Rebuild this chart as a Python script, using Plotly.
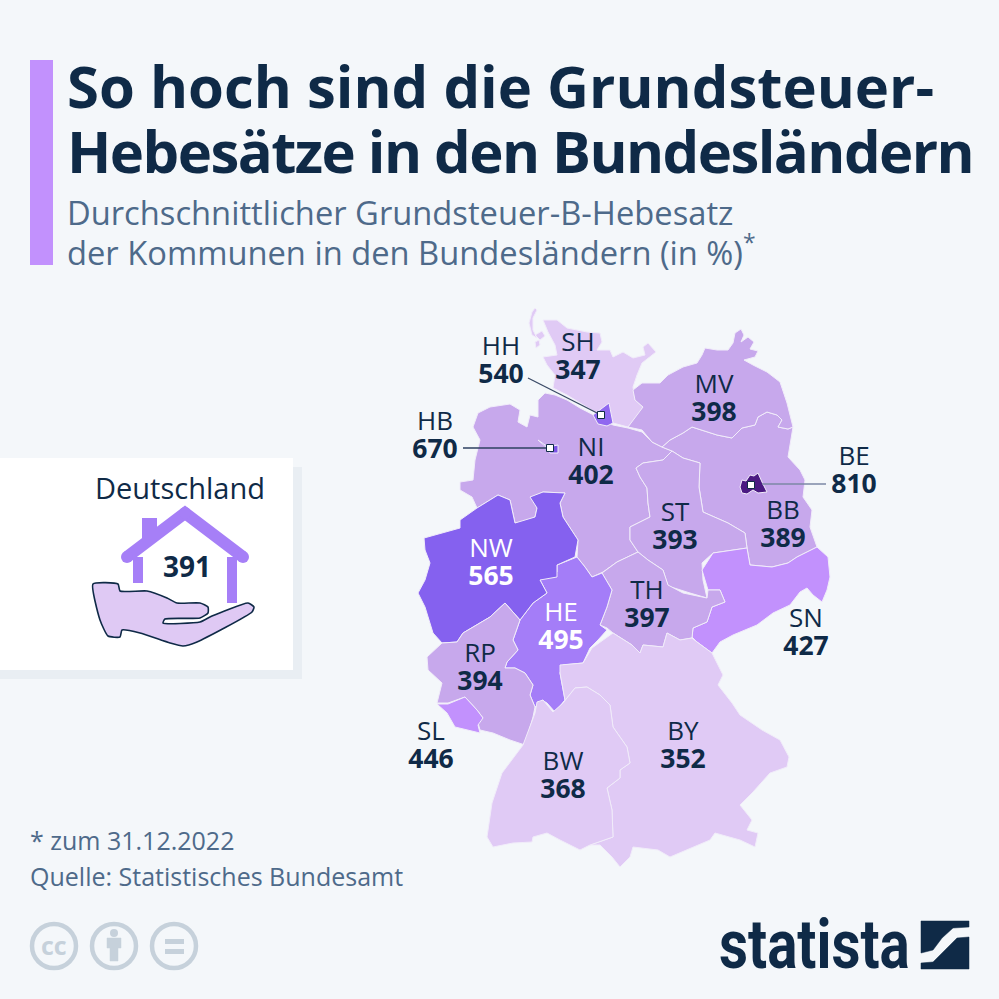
import plotly.graph_objects as go

# ---------- data ----------
STATES = ["SH", "HH", "HB", "NI", "MV", "BE", "BB", "ST", "NW", "HE", "TH", "SN", "RP", "SL", "BY", "BW"]
RATES = [347, 540, 670, 402, 398, 810, 389, 393, 565, 495, 397, 427, 394, 446, 352, 368]
NATIONAL_LABEL = "Deutschland"
NATIONAL_RATE = 391

# colour per rate class
RATE_CLASSES = [(360, "#E0CAF5"), (370, "#E0CAF5"), (410, "#C7A8EC"), (430, "#C291FD"), (450, "#C291FD"),
                (500, "#A47DF8"), (550, "#9068F0"), (600, "#8561EF"), (700, "#7B52E6"), (900, "#4B1A82")]

# label anchor points of each state (same order as STATES): map units
LABEL_X = [578, 501, 435, 591, 714, 854, 783, 675, 491, 561, 647, 806, 480, 431, 683, 563]
LABEL_Y = [344, 348, 423, 449, 386, 458, 512, 514, 550, 614, 592, 620, 655, 733, 733, 763]
VALUE_DY = 27

# state outlines, map units
SH = [(543,320),(557,320),(567,328),(587,332),(600,333),(602,342),(597,350),(610,350),(613,357),(623,352),(633,358),
      (645,355),(643,347),(648,343),(656,352),(648,358),(642,363),(637,375),(633,387),(635,400),(643,407),(637,417),
      (628,427),(613,423),(600,415),(587,407),(567,395),(553,388),(555,375),(547,365),(543,357),(557,355),(555,345),
      (548,332),(543,320),None,
      (535,308),(537,310),(533,318),(533,330),(537,338),(532,335),(529,323),(532,312),(535,308),None,
      (535,335),(542,331),(545,336),(540,340),(535,335),None,
      (535,342),(539,340),(540,345),(536,348),(535,342)]
NI = [(478,413),(490,407),(510,404),(520,410),(518,422),(527,427),(530,415),(538,417),(538,400),(545,393),(555,395),
      (567,400),(580,408),(593,415),(613,425),(628,428),(642,432),(652,442),(662,447),(672,451),(663,460),(643,463),
      (636,468),(640,477),(647,488),(648,503),(650,517),(630,527),(630,540),(638,552),(617,562),(603,572),(592,577),
      (585,567),(577,557),(578,540),(563,517),(560,503),(565,493),(543,492),(532,497),(537,508),(535,517),(523,522),
      (515,523),(510,500),(498,495),(477,508),(472,497),(460,490),(460,482),(473,480),(475,460),(480,440),(473,427),(478,413)]
BB = [(662,447),(670,440),(683,433),(692,427),(717,435),(732,438),(742,428),(755,425),(758,417),(767,412),(777,415),
      (782,420),(778,427),(788,429),(793,427),(790,443),(788,457),(800,470),(805,480),(803,497),(812,510),(810,527),
      (817,547),(797,557),(788,563),(772,567),(750,565),(747,548),(745,533),(728,523),(703,512),(699,487),(700,463),
      (683,458),(672,451),(662,447)]
MV = [(628,427),(643,407),(635,400),(633,390),(642,383),(660,383),(668,375),(683,367),(697,363),(702,355),(705,348),
      (717,350),(728,350),(733,343),(735,333),(741,329),(744,335),(741,342),(748,337),(754,342),(750,349),(758,351),
      (755,357),(744,360),(753,365),(767,372),(780,382),(782,388),(787,403),(793,427),(788,429),(778,427),(782,420),
      (777,415),(767,412),(758,417),(755,425),(742,428),(732,438),(717,435),(692,427),(683,433),(670,440),(662,447),
      (652,442),(642,430),(628,427)]
ST = [(672,451),(683,458),(700,463),(699,487),(703,512),(728,523),(745,533),(747,548),(713,553),(702,563),(703,580),
      (707,598),(690,593),(668,586),(663,570),(648,560),(638,552),(630,540),(630,527),(650,517),(648,503),(647,488),
      (640,477),(636,468),(643,463),(663,460),(672,451)]
SN = [(713,553),(747,548),(750,565),(772,567),(788,563),(797,557),(817,547),(828,557),(830,577),(827,590),(822,602),
      (813,595),(807,588),(800,592),(790,605),(773,613),(757,625),(733,635),(720,642),(712,653),(697,642),(692,637),
      (693,628),(707,622),(712,607),(725,602),(720,590),(708,590),(702,570),(713,553)]
TH = [(602,573),(617,562),(638,552),(648,560),(663,570),(668,585),(683,593),(707,598),(708,590),(720,590),(725,602),
      (712,607),(707,622),(693,628),(692,638),(680,640),(667,633),(663,647),(643,645),(640,653),(632,645),(613,633),
      (607,628),(600,625),(607,607),(612,590),(602,573)]
HE = [(592,577),(602,573),(612,590),(607,607),(600,625),(607,630),(598,640),(590,648),(583,663),(563,665),(560,673),
      (565,700),(555,712),(547,703),(542,700),(535,707),(530,695),(533,685),(525,673),(515,668),(505,668),(507,662),
      (518,650),(513,640),(520,620),(533,603),(547,593),(540,580),(557,572),(557,565),(577,557),(585,567),(592,577)]
NW = [(424,538),(460,528),(460,520),(477,508),(498,495),(510,500),(515,523),(535,517),(537,508),(530,497),(543,492),
      (565,493),(560,503),(563,517),(578,540),(575,557),(557,565),(557,577),(540,580),(547,593),(533,603),(520,620),
      (505,603),(490,617),(463,633),(457,642),(442,643),(433,633),(425,607),(418,593),(425,580),(430,563),(425,550),(424,538)]
RP = [(505,603),(520,620),(513,640),(518,650),(507,662),(505,668),(515,668),(525,673),(533,685),(530,695),(535,707),
      (533,717),(525,745),(510,740),(493,733),(480,730),(478,723),(483,718),(477,710),(465,697),(448,703),(437,703),
      (442,683),(428,670),(427,657),(442,643),(457,642),(463,633),(490,617),(505,603)]
SL = [(437,704),(448,704),(465,697),(477,710),(483,718),(478,725),(480,733),(467,730),(455,727),(447,713),(437,704)]
BY = [(560,665),(583,663),(592,648),(613,633),(632,645),(640,653),(643,645),(663,647),(667,633),(680,640),(692,638),
      (697,642),(712,653),(723,675),(718,685),(732,703),(740,715),(762,730),(780,740),(789,757),(787,767),(770,773),
      (753,792),(740,805),(752,820),(747,830),(758,833),(755,847),(740,840),(715,833),(710,840),(670,857),(658,850),
      (633,847),(630,857),(620,867),(612,857),(600,845),(590,845),(613,837),(612,810),(607,788),(620,778),(620,770),
      (630,763),(627,747),(613,727),(610,705),(600,695),(587,687),(575,688),(567,698),(563,703),(565,700),(560,673),(560,665)]
BW = [(575,688),(587,687),(600,695),(610,705),(613,727),(627,747),(630,763),(620,770),(620,778),(607,788),(612,810),
      (613,837),(590,845),(580,850),(560,840),(547,833),(533,837),(532,842),(513,843),(493,847),(487,837),(492,803),
      (502,773),(523,745),(535,713),(537,702),(543,700),(547,705),(553,712),(563,703),(567,698),(575,688)]
HB = [(538,440),(548,447),(558,445),(558,453),(550,453),(547,448),(538,440)]
HH = [(609,403),(611,412),(613,423),(607,426),(598,424),(593,415),(600,410),(609,403)]
BE = [(742,480),(746,481),(750,475),(754,476),(758,473),(760,478),(762,482),(767,492),(758,493),(753,490),(747,494),(742,493),(740,487),(742,480)]

DRAW_ORDER = [("SH", SH), ("NI", NI), ("BB", BB), ("MV", MV), ("ST", ST), ("SN", SN), ("TH", TH), ("HE", HE),
              ("NW", NW), ("RP", RP), ("SL", SL), ("BY", BY), ("BW", BW), ("HB", HB), ("HH", HH), ("BE", BE)]

# leader lines: state, label-side end, marker end
LEADERS = [("HH", (528,378), (601,415), "#3A4A66"), ("HB", (463,448), (550,448), "#2E4060"), ("BE", (762,484), (826,484), "#7C88A6")]

HAND = [(93,584),(118,584),(120,591),(147,591),(167,598),(177,603),(200,603),(208,607),(208,613),(200,618),(165,619),
        (163,623),(200,622),(212,616),(248,603),(254,607),(252,612),(197,642),(183,646),(170,643),(140,633),(122,630),
        (120,637),(108,636),(100,620),(93,584)]
ROOF = [(127,557),(185,513),(243,557)]
WALL_L = [(138,557),(138,583)]
WALL_R = [(232,557),(232,603)]
LOGO_TOP = [(921,921),(969,921),(969,927),(953,928),(942,938),(933,950),(921,953),(921,921)]
LOGO_BOTTOM = [(969,937),(957,938),(947,948),(933,962),(921,963),(921,969),(969,969),(969,937)]
PERSON = [(110,961),(110,948),(107,948),(107,938),(121,938),(121,948),(118,948),(118,961),(110,961)]

# ---------- style ----------
BG = "#F4F7FA"
NAVY = "#0F2A47"
SLATE = "#4E6A8A"
PURPLE = "#A67FF7"
ACCENT = "#C291FD"
ICON = "#C6D1DB"
FONT = "Open Sans"


def xy(points):
    return ([p[0] if p else None for p in points], [p[1] if p else None for p in points])


def colour_for(rate):
    for limit, col in RATE_CLASSES:
        if rate < limit:
            return col
    return RATE_CLASSES[-1][1]


rate_of = dict(zip(STATES, RATES))
fig = go.Figure()

# states
for name, outline in DRAW_ORDER:
    x, y = xy(outline)
    fig.add_trace(go.Scatter(x=x, y=y, mode="lines", fill="toself", fillcolor=colour_for(rate_of[name]),
                             line=dict(color="#F1ECFA", width=1), hoverinfo="skip", name=name))

# leaders + markers
for name, a, b, col in LEADERS:
    fig.add_trace(go.Scatter(x=[a[0], b[0]], y=[a[1], b[1]], mode="lines", line=dict(color=col, width=1.3), hoverinfo="skip"))
marker_x = [601, 550, 751]
marker_y = [415, 448, 485]
fig.add_trace(go.Scatter(x=marker_x, y=marker_y, mode="markers", hoverinfo="skip",
                         marker=dict(symbol="square", size=7, color="white", line=dict(color=NAVY, width=1))))

# state labels
name_col = ["white" if s in ("NW", "HE") else NAVY for s in STATES]
fig.add_trace(go.Scatter(x=LABEL_X, y=LABEL_Y, mode="text", text=STATES, hoverinfo="skip",
                         textfont=dict(family=FONT, size=26, color=name_col)))
fig.add_trace(go.Scatter(x=LABEL_X, y=[v + VALUE_DY + 1 for v in LABEL_Y], mode="text", text=[str(r) for r in RATES], hoverinfo="skip",
                         textfont=dict(family=FONT, size=26.5, color=name_col, weight=700)))

shapes = [
    dict(type="rect", x0=0, x1=302, y0=467, y1=679, fillcolor="#E9EEF3", line_width=0, layer="below"),
    dict(type="rect", x0=-2, x1=293, y0=458, y1=670, fillcolor="white", line_width=0, layer="below"),
    dict(type="rect", x0=30, x1=53, y0=60, y1=265, fillcolor=ACCENT, line_width=0, layer="below"),
    dict(type="rect", x0=142, x1=157, y0=518, y1=538, fillcolor=PURPLE, line_width=0, layer="below"),
]
for cx in (54, 114, 174):
    shapes.append(dict(type="circle", x0=cx - 22, x1=cx + 22, y0=924, y1=968, line=dict(color=ICON, width=4.5)))
shapes += [
    dict(type="circle", x0=110, x1=118, y0=929, y1=937, fillcolor=ICON, line_width=0),
    dict(type="rect", x0=165, x1=184, y0=939, y1=944, fillcolor=ICON, line_width=0),
    dict(type="rect", x0=165, x1=184, y0=949, y1=954, fillcolor=ICON, line_width=0),
]

# house + hand
for pts in (WALL_L, WALL_R):
    x, y = xy(pts)
    fig.add_trace(go.Scatter(x=x, y=y, mode="lines", line=dict(color=PURPLE, width=10), hoverinfo="skip"))
x, y = xy(ROOF)
fig.add_trace(go.Scatter(x=x, y=y, mode="lines+markers", line=dict(color=PURPLE, width=12), hoverinfo="skip",
                         marker=dict(color=PURPLE, size=12)))
x, y = xy(HAND)
fig.add_trace(go.Scatter(x=x, y=y, mode="lines", fill="toself", fillcolor="#DFC9F4", line=dict(color=NAVY, width=1.6, shape="spline", smoothing=0.5),
                         hoverinfo="skip"))
# icons
for pts, col in ((PERSON, ICON), (LOGO_TOP, NAVY), (LOGO_BOTTOM, NAVY)):
    x, y = xy(pts)
    fig.add_trace(go.Scatter(x=x, y=y, mode="lines", fill="toself", fillcolor=col, line=dict(color=col, width=0.5), hoverinfo="skip"))


def label(x, y, text, size, color=NAVY, bold=False, anchor="left", family=FONT):
    return dict(x=x, y=y, xref="x", yref="y", text=f"<b>{text}</b>" if bold else text, showarrow=False, xanchor=anchor,
                yanchor="middle", align=anchor, font=dict(family=family, size=size, color=color))


annotations = [
    label(65, 85, "So hoch sind die Grundsteuer-", 58, bold=True),
    label(65, 150, "Hebesätze in den Bundesländern", 58, bold=True),
    label(65, 212, "Durchschnittlicher Grundsteuer-B-Hebesatz", 32.7, SLATE),
    label(65, 251, "der Kommunen in den Bundesländern (in %)<sup>*</sup>", 32.7, SLATE),
    label(180, 487, NATIONAL_LABEL, 29, anchor="center"),
    label(187, 566, str(NATIONAL_RATE), 28, bold=True, anchor="center"),
    label(28, 840, "* zum 31.12.2022", 25, SLATE),
    label(28, 876, "Quelle: Statistisches Bundesamt", 25, SLATE),
    label(54, 945, "cc", 25, ICON, bold=True, anchor="center"),
    label(814, 945, "statista", 56.5, NAVY, bold=True, anchor="center", family="Roboto"),
]

fig.update_layout(
    width=999, height=999, margin=dict(l=0, r=0, t=0, b=0), showlegend=False,
    paper_bgcolor=BG, plot_bgcolor=BG, shapes=shapes, annotations=annotations,
    xaxis=dict(range=[0, 999], visible=False, fixedrange=True),
    yaxis=dict(range=[999, 0], visible=False, fixedrange=True),
)

POST = """
document.body.style.margin='0';
document.documentElement.style.background='#F4F7FA';
document.body.style.overflow='hidden';
document.querySelectorAll('.annotation-text').forEach(function(t){
  var s=t.textContent;
  if(s.indexOf('Hebes\\u00e4tze')===0){t.style.letterSpacing='-1.55px';}
  if(s==='statista'){t.style.transformBox='fill-box';t.style.transformOrigin='center';t.style.transform='scaleY(1.2)';}
});
"""
fig.write_html("out.html", config=dict(displayModeBar=False), post_script=POST)
